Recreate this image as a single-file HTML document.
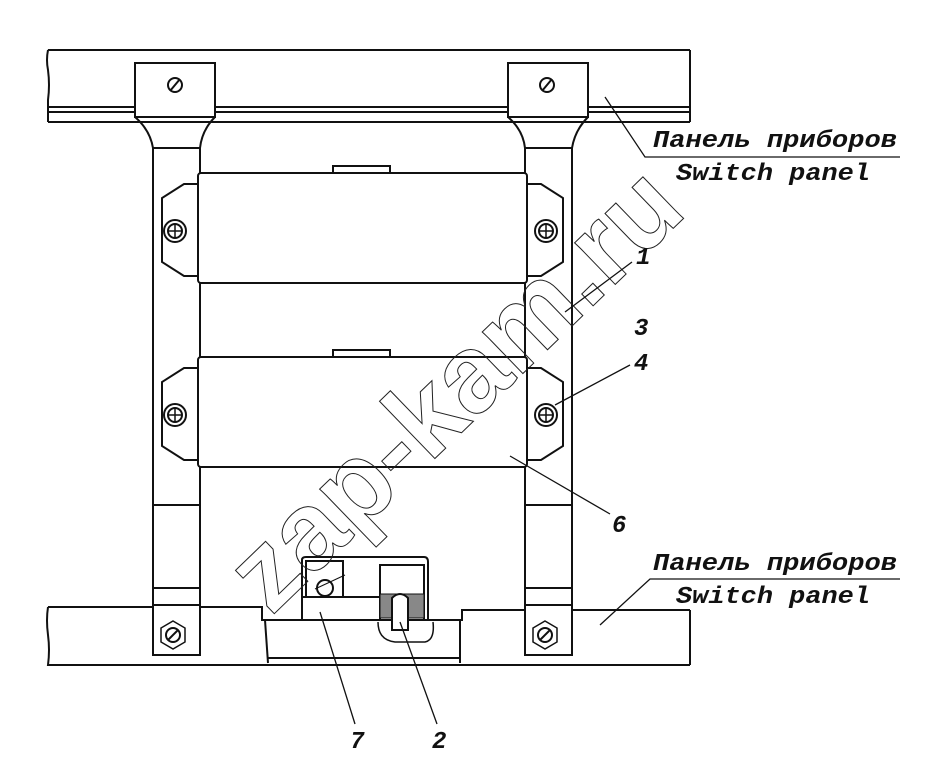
<!DOCTYPE html>
<html><head><meta charset="utf-8"><style>html,body{margin:0;padding:0;background:#fff}svg{display:block}</style></head><body>
<svg width="944" height="780" viewBox="0 0 944 780" xmlns="http://www.w3.org/2000/svg" fill="none" stroke="#111" stroke-width="2">
<!-- top panel -->
<path d="M48 50 L690 50 M48 50 Q46 60 48 70 Q50 85 48 100 L48 122 M690 50 L690 122 M48 107 L690 107 M48 112 L690 112 M48 122 L690 122"/>
<!-- left bracket -->
<path d="M135 63 H215 V117 H135 Z" fill="#fff"/>
<path d="M135 117 Q150 130 153 148 V655 M215 117 Q202 130 200 148 V655 M153 148 H200"/>
<circle cx="175" cy="85" r="7"/><path d="M170 91 L180 79"/>
<!-- right bracket -->
<path d="M508 63 H588 V117 H508 Z" fill="#fff"/>
<path d="M508 117 Q523 130 525 148 V655 M588 117 Q575 130 572 148 V655 M525 148 H572"/>
<circle cx="547" cy="85" r="7"/><path d="M542 91 L552 79"/>
<!-- stem ticks -->
<path d="M153 505 H200 M153 588 H200 M525 505 H572 M525 588 H572"/>
<!-- blocks -->
<g id="blk">
<path d="M333 173 V166 H390 V173"/>
<rect x="198" y="173" width="329" height="110" rx="3" fill="#fff"/>
<path d="M198 184 H184 L162 198 V262 L184 276 H198"/>
<path d="M527 184 H541 L563 198 V262 L541 276 H527"/>
<circle cx="175" cy="231" r="11"/><circle cx="175" cy="231" r="7"/><path d="M168 231 H182 M175 224 V238" stroke-width="1.5"/>
<circle cx="546" cy="231" r="11"/><circle cx="546" cy="231" r="7"/><path d="M539 231 H553 M546 224 V238" stroke-width="1.5"/>
</g>
<use href="#blk" transform="translate(0,184)"/>
<!-- bottom panel -->
<path d="M48 607 H262 V620 H462 V610 H690 M48 607 Q46 620 48 635 Q50 650 48 665 H690 M690 610 V665 M265 620 L268 663 M460 620 V663 M268 658 H460"/>
<rect x="153" y="605" width="47" height="50" fill="#fff"/>
<rect x="525" y="605" width="47" height="50" fill="#fff"/>
<polygon points="173,621 185,628 185,642 173,649 161,642 161,628" stroke-width="1.5"/><circle cx="173" cy="635" r="7"/><path d="M168 640 L178 630"/>
<polygon points="545,621 557,628 557,642 545,649 533,642 533,628" stroke-width="1.5"/><circle cx="545" cy="635" r="7"/><path d="M540 640 L550 630"/>
<!-- component 7/2 -->
<path d="M302 620 V560 Q302 557 306 557 H424 Q428 557 428 562 V620"/>
<path d="M306 597 V561 H343 V597 H306 M302 597 H380"/>
<circle cx="325" cy="588" r="8"/><path d="M315 589 L345 575" stroke-width="1"/>
<path d="M380 620 V565 H424 V620"/>
<rect x="380" y="594" width="44" height="24" fill="#888" stroke-width="1"/>
<path d="M392 620 V598 Q400 590 408 598 V630 H392 V620" fill="#fff"/>
<path d="M378 622 Q378 640 395 642 H425 Q435 640 433 622" stroke-width="1.5"/>
<!-- watermark -->
<text x="0" y="0" transform="translate(480,415) rotate(-44)" text-anchor="middle" font-family="Liberation Sans, sans-serif" font-weight="bold" font-size="110" stroke-width="1" stroke="#222" fill="none">zap-kam.ru</text>
<!-- labels -->
<g fill="#111" stroke="none" font-family="Liberation Mono, monospace" font-weight="bold" font-style="italic" font-size="24">
<text x="653" y="147" textLength="244" lengthAdjust="spacingAndGlyphs">Панель приборов</text>
<text x="676" y="180" textLength="194" lengthAdjust="spacingAndGlyphs">Switch panel</text>
<text x="653" y="570" textLength="244" lengthAdjust="spacingAndGlyphs">Панель приборов</text>
<text x="676" y="603" textLength="194" lengthAdjust="spacingAndGlyphs">Switch panel</text>
<text x="636" y="264">1</text>
<text x="634" y="335">3</text>
<text x="634" y="370">4</text>
<text x="612" y="532">6</text>
<text x="350" y="748">7</text>
<text x="432" y="748">2</text>
</g>
<g stroke-width="1.3">
<path d="M605 97 L645 157 H900"/>
<path d="M600 625 L650 579 H900"/>
<path d="M565 312 L632 262"/>
<path d="M555 405 L630 365"/>
<path d="M510 456 L610 514"/>
<path d="M320 612 L355 724"/>
<path d="M400 622 L437 724"/>
</g>
</svg>
</body></html>
